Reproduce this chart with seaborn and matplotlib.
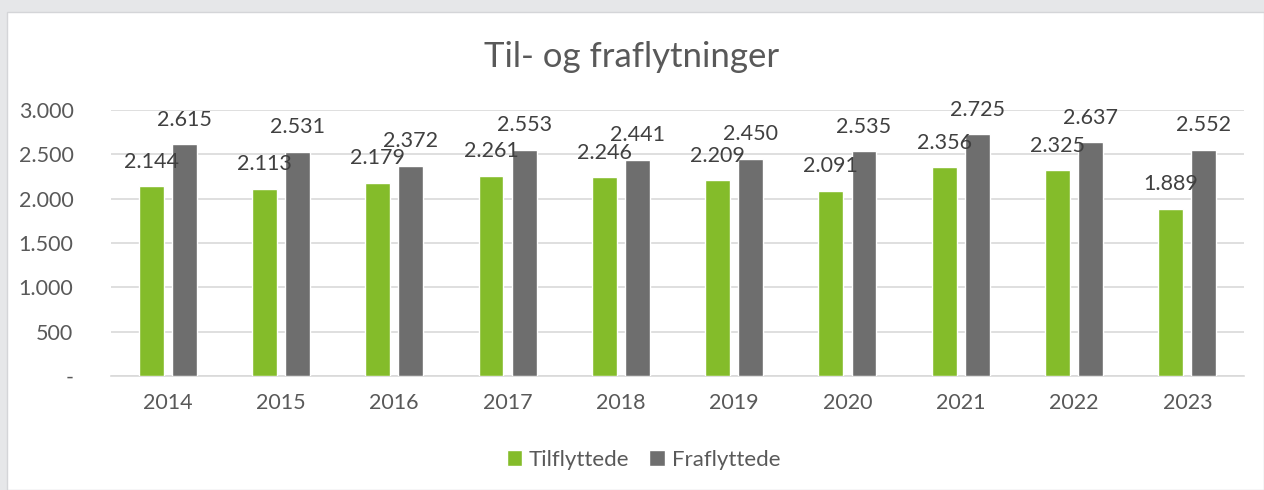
import pandas as pd
import matplotlib.pyplot as plt
import seaborn as sns
from matplotlib.patches import Rectangle

# Values
years = ['2014', '2015', '2016', '2017', '2018', '2019', '2020', '2021', '2022', '2023']
tilflyttede = [2144, 2113, 2179, 2261, 2246, 2209, 2091, 2356, 2325, 1889]
fraflyttede = [2615, 2531, 2372, 2553, 2441, 2450, 2535, 2725, 2637, 2552]
series_names = ['Tilflyttede', 'Fraflyttede']
yticks = [0, 500, 1000, 1500, 2000, 2500, 3000]

df = pd.DataFrame({
    'År': years * 2,
    'Antall': tilflyttede + fraflyttede,
    'Serie': [series_names[0]] * len(years) + [series_names[1]] * len(years),
})

sns.set_theme(style='white')
plt.rcParams['font.family'] = ['Lato', 'DejaVu Sans']

text_col = '#595959'
label_col = '#404040'
grid_col = '#D9D9D9'

fig = plt.figure(figsize=(12.64, 4.9), dpi=100, facecolor='#E6E7E9')
# white chart panel
fig.patches.append(Rectangle((7 / 1264, 0), 1 - 7 / 1264, 1 - 12 / 490,
                             transform=fig.transFigure, facecolor='white',
                             edgecolor='#D4D5D8', linewidth=1, zorder=-5))

ax = fig.add_axes([111 / 1264, 1 - 376 / 490, (1244 - 111) / 1264, (376 - 110) / 490])
ax.set_facecolor('none')
ax.set_zorder(2)

sns.barplot(data=df, x='År', y='Antall', hue='Serie', ax=ax,
            palette=['#84BC2A', '#6E6E6E'], width=0.584, gap=0.246,
            saturation=1, zorder=3)

def fmt(v):
    return f'{v:,}'.replace(',', '.')

for cont in ax.containers:
    for bar in cont:
        h = bar.get_height()
        ax.annotate(fmt(int(round(h))), (bar.get_x() + bar.get_width() / 2, h),
                    xytext=(0, 17.5), textcoords='offset points',
                    ha='center', va='center', fontsize=15.5, color=label_col, zorder=4)

ax.set_xlim(-0.5, len(years) - 0.5)
ax.set_ylim(0, 3000)
ax.set_yticks(yticks)
ax.set_yticklabels(['-' if t == 0 else fmt(t) for t in yticks])
ax.yaxis.grid(True, color=grid_col, linewidth=1.2, zorder=0)
ax.set_axisbelow(True)
for s in ['top', 'right', 'left']:
    ax.spines[s].set_visible(False)
ax.spines['bottom'].set_color(grid_col)
ax.spines['bottom'].set_linewidth(1.2)
ax.tick_params(axis='both', length=0, labelsize=15.5, labelcolor=text_col)
ax.tick_params(axis='y', pad=27)
ax.tick_params(axis='x', pad=12)
ax.set_xlabel('')
ax.set_ylabel('')

fig.text(0.5, 1 - 57 / 490, 'Til- og fraflytninger', ha='center', va='center',
         fontsize=25, color=text_col)

handles, labels = ax.get_legend_handles_labels()
ax.get_legend().remove()
fig.legend(handles, labels, loc='center', bbox_to_anchor=(0.509, 1 - 460 / 490),
           ncol=2, frameon=False, fontsize=16, handlelength=0.7, handleheight=0.7,
           handletextpad=0.3, columnspacing=0.9, labelcolor=text_col)

fig.savefig('out.png', dpi=100, facecolor=fig.get_facecolor())
